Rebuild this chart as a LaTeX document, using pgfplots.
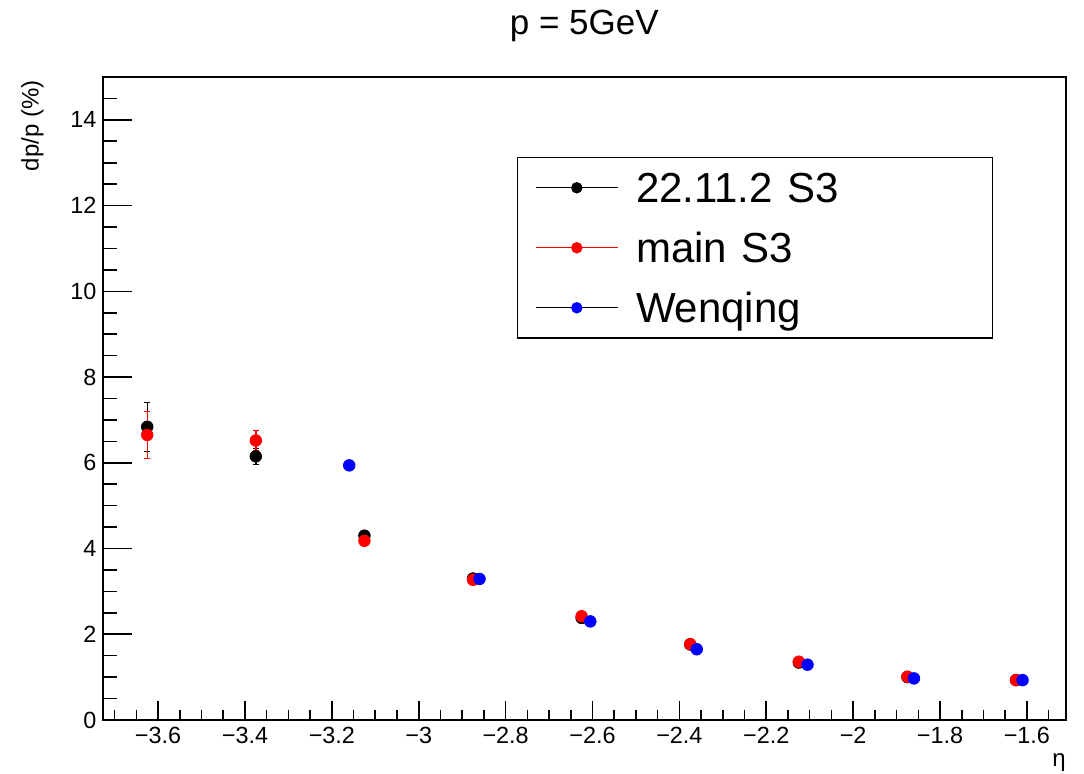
\documentclass[border=0pt]{standalone}
\usepackage{fontspec}
\setmainfont{Liberation Sans}
\usepackage{pgfplots}
\pgfplotsset{compat=1.18}
\definecolor{rootred}{RGB}{255,0,0}
\definecolor{rootblue}{RGB}{0,0,255}
\begin{document}
\begin{tikzpicture}
\begin{axis}[
  name=ax,
  scale only axis,
  width=481.65pt, height=321.5pt,
  xmin=-3.7275, xmax=-1.51,
  ymin=0, ymax=15,
  axis line style={line width=1pt},
  tick align=inside,
  xtick pos=bottom, ytick pos=left,
  xtick={-3.6,-3.4,-3.2,-3.0,-2.8,-2.6,-2.4,-2.2,-2.0,-1.8,-1.6},
  xticklabels={−3.6,−3.4,−3.2,−3,−2.8,−2.6,−2.4,−2.2,−2,−1.8,−1.6},
  minor xtick={-3.70,-3.65,-3.55,-3.50,-3.45,-3.35,-3.30,-3.25,-3.15,-3.10,-3.05,-2.95,-2.90,-2.85,-2.75,-2.70,-2.65,-2.55,-2.50,-2.45,-2.35,-2.30,-2.25,-2.15,-2.10,-2.05,-1.95,-1.90,-1.85,-1.75,-1.70,-1.65,-1.55},
  ytick={0,2,4,6,8,10,12,14},
  yticklabels={0,2,4,6,8,10,12,14},
  minor ytick={0.5,1,1.5,2.5,3,3.5,4.5,5,5.5,6.5,7,7.5,8.5,9,9.5,10.5,11,11.5,12.5,13,13.5,14.5},
  major tick length=12pt, minor tick length=6pt,
  every major x tick/.append style={/pgfplots/major tick length=9.5pt},
  every minor x tick/.append style={/pgfplots/minor tick length=5pt},
  every major y tick/.append style={/pgfplots/major tick length=14.5pt},
  every minor y tick/.append style={/pgfplots/minor tick length=7pt},
  tick style={line width=0.8pt, black},
  ticklabel style={font=\fontsize{11.7}{14}\selectfont},
  xticklabel style={anchor=north, inner sep=0pt, yshift=-3.3pt},
  yticklabel style={anchor=east, inner sep=0pt, xshift=-3pt},
  title={p = 5GeV},
  title style={at={(axis description cs:0.5,1)}, anchor=base, yshift=15pt, inner sep=0pt, font=\fontsize{17.5}{20}\selectfont},
  ylabel={dp/p (\%)},
  ylabel style={at={(axis description cs:-0.0729,0.9953)}, anchor=east, inner sep=0pt, font=\fontsize{12}{14}\selectfont},
  xlabel={η},
  xlabel style={at={(axis description cs:1,0)}, anchor=base east, yshift=-23.3pt, inner sep=0pt, font=\fontsize{12}{14}\selectfont},
  legend cell align=left,
  legend style={at={(axis description cs:0.4298,0.876)}, anchor=north west, draw=black, line width=0.7pt, fill=white,
    inner xsep=8.7pt, inner ysep=4.8pt, row sep=9.24pt, column sep=8.6pt,
    font=\fontsize{21}{24}\selectfont,
    nodes={inner sep=0pt, text height=17.9pt, text depth=2.86pt, text width=169.4pt, anchor=west}},
  clip=false,
]
% 22.11.2 S3 (black)
\addplot[forget plot, only marks, mark=*, mark size=2.9pt, black, mark options={fill=black, draw=black},
  error bars/.cd, y dir=both, y explicit,
  error bar style={line width=0.7pt, black},
  error mark options={rotate=90, mark size=1.4pt, line width=0.7pt, black}]
  table[x=x, y=y, y error=e] {
x y e
-3.625 6.84 0.57
-3.375 6.15 0.19
-3.125 4.30 0.05
-2.875 3.30 0.03
-2.625 2.38 0.02
-2.375 1.76 0.02
-2.125 1.34 0.01
-1.875 1.00 0.01
-1.625 0.93 0.01
};
% main S3 (red)
\addplot[forget plot, only marks, mark=*, mark size=2.9pt, rootred, mark options={fill=rootred, draw=rootred},
  error bars/.cd, y dir=both, y explicit,
  error bar style={line width=0.7pt, rootred},
  error mark options={rotate=90, mark size=1.4pt, line width=0.7pt, rootred}]
  table[x=x, y=y, y error=e] {
x y e
-3.625 6.65 0.55
-3.375 6.52 0.24
-3.125 4.18 0.05
-2.875 3.27 0.03
-2.625 2.42 0.02
-2.375 1.77 0.02
-2.125 1.36 0.01
-1.875 1.01 0.01
-1.625 0.93 0.01
};
% Wenqing (blue)
\addplot[forget plot, only marks, mark=*, mark size=2.9pt, rootblue, mark options={fill=rootblue, draw=rootblue}]
  table[x=x, y=y] {
x y
-3.160 5.94
-2.860 3.29
-2.605 2.30
-2.360 1.65
-2.105 1.29
-1.860 0.97
-1.610 0.93
};
\addlegendimage{legend image code/.code={\draw[black, line width=0.7pt] (0pt,0pt) -- (41.3pt,0pt); \fill[black] (20.65pt,0pt) circle (2.5pt);}}
\addlegendentry{22.11.2 S3}
\addlegendimage{legend image code/.code={\draw[rootred, line width=0.7pt] (0pt,0pt) -- (41.3pt,0pt); \fill[rootred] (20.65pt,0pt) circle (2.5pt);}}
\addlegendentry{main S3}
\addlegendimage{legend image code/.code={\draw[black, line width=0.7pt] (0pt,0pt) -- (41.3pt,0pt); \fill[rootblue] (20.65pt,0pt) circle (2.5pt);}}
\addlegendentry{Wenqing}
\end{axis}
\pgfresetboundingbox
\path[use as bounding box] ([xshift=-51.35pt,yshift=-27pt]ax.south west) rectangle ([xshift=9pt,yshift=38.5pt]ax.north east);
\end{tikzpicture}
\end{document}
